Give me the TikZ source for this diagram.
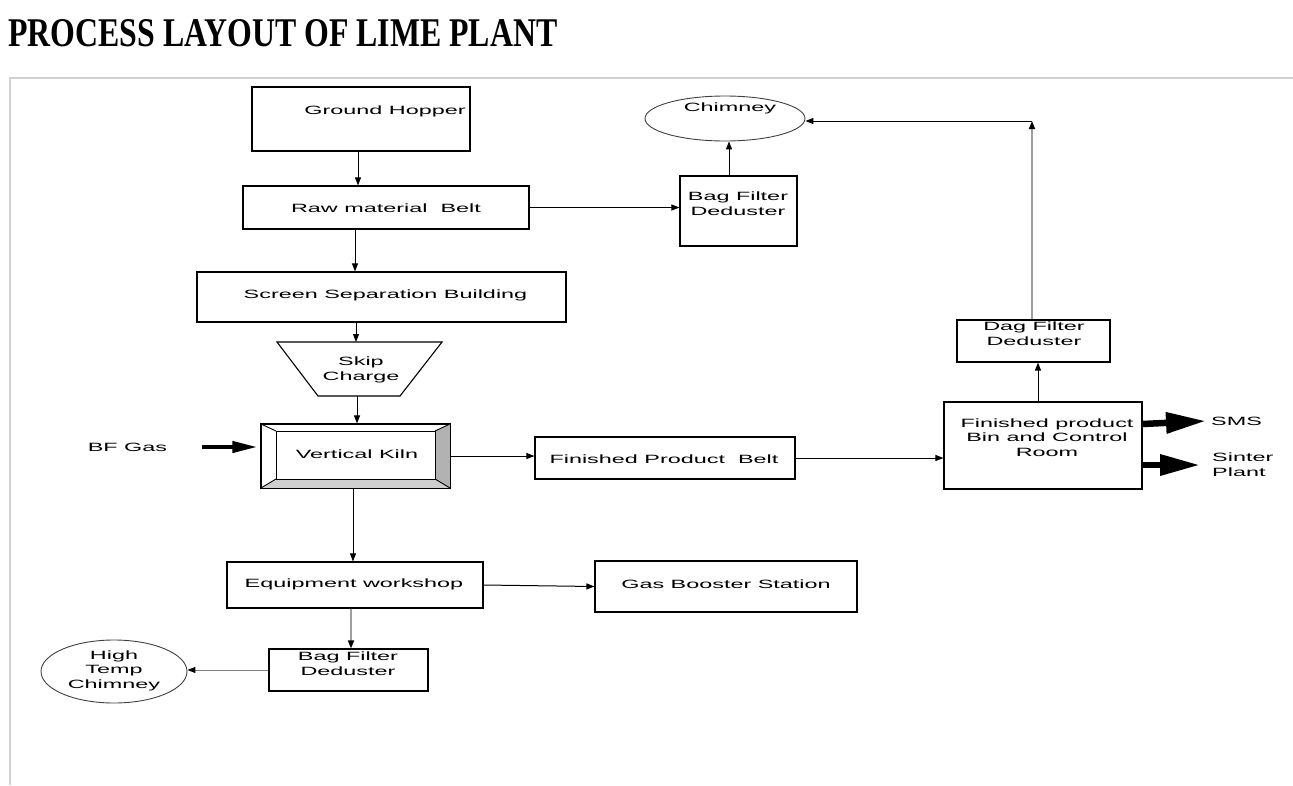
\documentclass[tikz,border=0pt]{standalone}
\usepackage{fontspec}
\usetikzlibrary{shapes.geometric,arrows.meta}
\newfontfamily\boxfont[FakeStretch=1.95]{Liberation Sans}
\newfontfamily\titlefont{Liberation Serif}

\begin{document}
\begin{tikzpicture}[x=1pt, y=-1pt,
    box/.style={draw, line width=1.1pt, inner sep=0pt, rectangle},
    oval/.style={draw=black!75, line width=0.9pt, ellipse, inner sep=0pt},
    txt/.style={font=\boxfont\fontsize{12}{14.5}\selectfont, inner sep=0pt, align=center, text height=8.6pt, text depth=0pt},
    arr/.style={line width=1pt, -{Triangle[length=8pt,width=6pt,color=black]}},
    grayarr/.style={arr, draw=gray!75, line width=1.6pt},
    fat/.style={line width=6.5pt, -{Triangle[length=40pt,width=20pt]}},
    thinfat/.style={line width=4pt, -{Triangle[length=25pt,width=11pt]}}]
    \useasboundingbox (0,0) rectangle (1293,785);

    % Title and frame
    \node[anchor=south west, inner sep=0pt] (title) at (8,47)
        {\resizebox{549pt}{27pt}{\titlefont\bfseries PROCESS LAYOUT OF LIME PLANT}};
    \draw[draw=black!18, line width=1.5pt] (10,785) -- (10,78) -- (1293,78);

    % Boxes with manual coordinates
    \node[box, minimum width=218pt, minimum height=64pt] (hopper) at (361,119) {};
    \node[box, minimum width=286pt, minimum height=43pt] (rawbelt) at (386,207.5) {};
    \node[box, minimum width=117pt, minimum height=70pt] (bagtop) at (738.5,211) {};
    \node[oval, minimum width=160pt, minimum height=45pt] (chimney) at (725,118.5) {};
    \node[box, minimum width=369pt, minimum height=50pt] (screen) at (381.5,297) {};
    \node[box, minimum width=189pt, minimum height=64pt] (kiln) at (355.5,456) {};
    \node[box, minimum width=260pt, minimum height=42pt] (fpbelt) at (665,458) {};
    \node[box, minimum width=198pt, minimum height=87pt] (bin) at (1043,445.5) {};
    \node[box, minimum width=153pt, minimum height=42pt] (dag) at (1033.5,341) {};
    \node[box, minimum width=256pt, minimum height=46pt] (workshop) at (355,585) {};
    \node[box, minimum width=262pt, minimum height=51pt] (booster) at (726,586.5) {};
    \node[box, minimum width=159pt, minimum height=42pt] (baglow) at (348.5,670) {};
    \node[oval, minimum width=146pt, minimum height=63pt] (hightemp) at (114,671.5) {};

    % Skip charge hopper
    \draw[box] (277,342) -- (442,342) -- (400,396) -- (318,396) -- cycle;
    \coordinate (skiptop) at (357,342);
    \coordinate (skipbot) at (357,396);

    % Kiln bevel
    \fill[gray!60] (450,424) -- (450,488) -- (435,479) -- (435,431) -- cycle;
    \fill[gray!38] (261,488) -- (450,488) -- (435,479) -- (276,479) -- cycle;
    \draw[line width=0.9pt] (276,431) rectangle (435,479);
    \draw[line width=0.9pt] (261,424) -- (276,431) (450,424) -- (435,431)
        (261,488) -- (276,479) (450,488) -- (435,479);
    \draw[box] (kiln.north west) rectangle (kiln.south east);

    % Texts (multi-line ones placed by their last line)
    \node[txt] (hoppertxt) at (385,110) {Ground Hopper};
    \node[txt] (rawtxt) at (386,208) {Raw material~~Belt};
    \node[txt] (bagtoptxt) at (738,211) {Bag Filter\\Deduster};
    \node[txt] (chimneytxt) at (730,107) {Chimney};
    \node[txt] (screentxt) at (385.5,294) {Screen Separation Building};
    \node[txt] (skiptxt) at (361,376) {Skip\\Charge};
    \node[txt] (kilntxt) at (357,454) {Vertical Kiln};
    \node[txt] (bfgas) at (127.5,447) {BF Gas};
    \node[txt] (fptxt) at (664,459) {Finished Product~~Belt};
    \node[txt] (bintxt) at (1047,452) {Finished product\\Bin and Control\\Room};
    \node[txt] (dagtxt) at (1034,341) {Dag Filter\\Deduster};
    \node[txt, anchor=west] (sms) at (1211,421) {SMS};
    \node[txt, anchor=west, align=left] (sinter) at (1212,472) {Sinter\\Plant};
    \node[txt] (worktxt) at (354,583) {Equipment workshop};
    \node[txt] (boostertxt) at (726,584) {Gas Booster Station};
    \node[txt] (baglowtxt) at (348,671) {Bag Filter\\Deduster};
    \node[txt] (hightxt) at (114,684) {High\\Temp\\Chimney};

    % Edges
    \draw[arr] ([xshift=-3pt]hopper.south) -- ([xshift=-3pt]hopper.south |- rawbelt.north);
    \draw[arr] (rawbelt.east) -- (rawbelt.east -| bagtop.west);
    \draw[arr] ([xshift=-9.5pt]bagtop.north) -- ([xshift=-9.5pt]bagtop.north |- chimney.south);
    \draw[arr] ([xshift=-31pt]rawbelt.south) -- ([xshift=-31pt]rawbelt.south |- screen.north);
    \draw[arr] ([xshift=-25.5pt]screen.south) -- ([xshift=-25.5pt]screen.south |- skiptop);
    \draw[arr] (skipbot) -- (skipbot |- kiln.north);
    \draw[thinfat] ([xshift=35pt]bfgas.east) -- ([xshift=-3pt]bfgas.east -| kiln.west);
    \draw[arr] (kiln.east) -- (kiln.east -| fpbelt.west);
    \draw[arr] (fpbelt.east) -- (fpbelt.east -| bin.west);
    \draw[arr] ([xshift=-5pt]bin.north) -- ([xshift=-5pt]bin.north |- dag.south);
    \coordinate (turn) at (1032,121);
    \draw[grayarr] (dag.north -| turn) -- (turn);
    \draw[arr] (turn) -- (turn -| chimney.east);
    \draw[fat] ([yshift=21.5pt]bin.east) -- ([xshift=-5pt]sms.west);
    \draw[fat] ([xshift=-2pt,yshift=-19.5pt]bin.east) -- ([xshift=-12pt,yshift=-19.5pt]bin.east -| sinter.west);
    \draw[arr] ([xshift=-2.5pt]kiln.south) -- ([xshift=-2.5pt]kiln.south |- workshop.north);
    \draw[arr] (workshop.east) -- (booster.west);
    \draw[grayarr] ([xshift=-4pt]workshop.south) -- ([xshift=-4pt]workshop.south |- baglow.north);
    \draw[arr, draw=gray] (baglow.west) -- (baglow.west -| hightemp.east);
\end{tikzpicture}
\end{document}
